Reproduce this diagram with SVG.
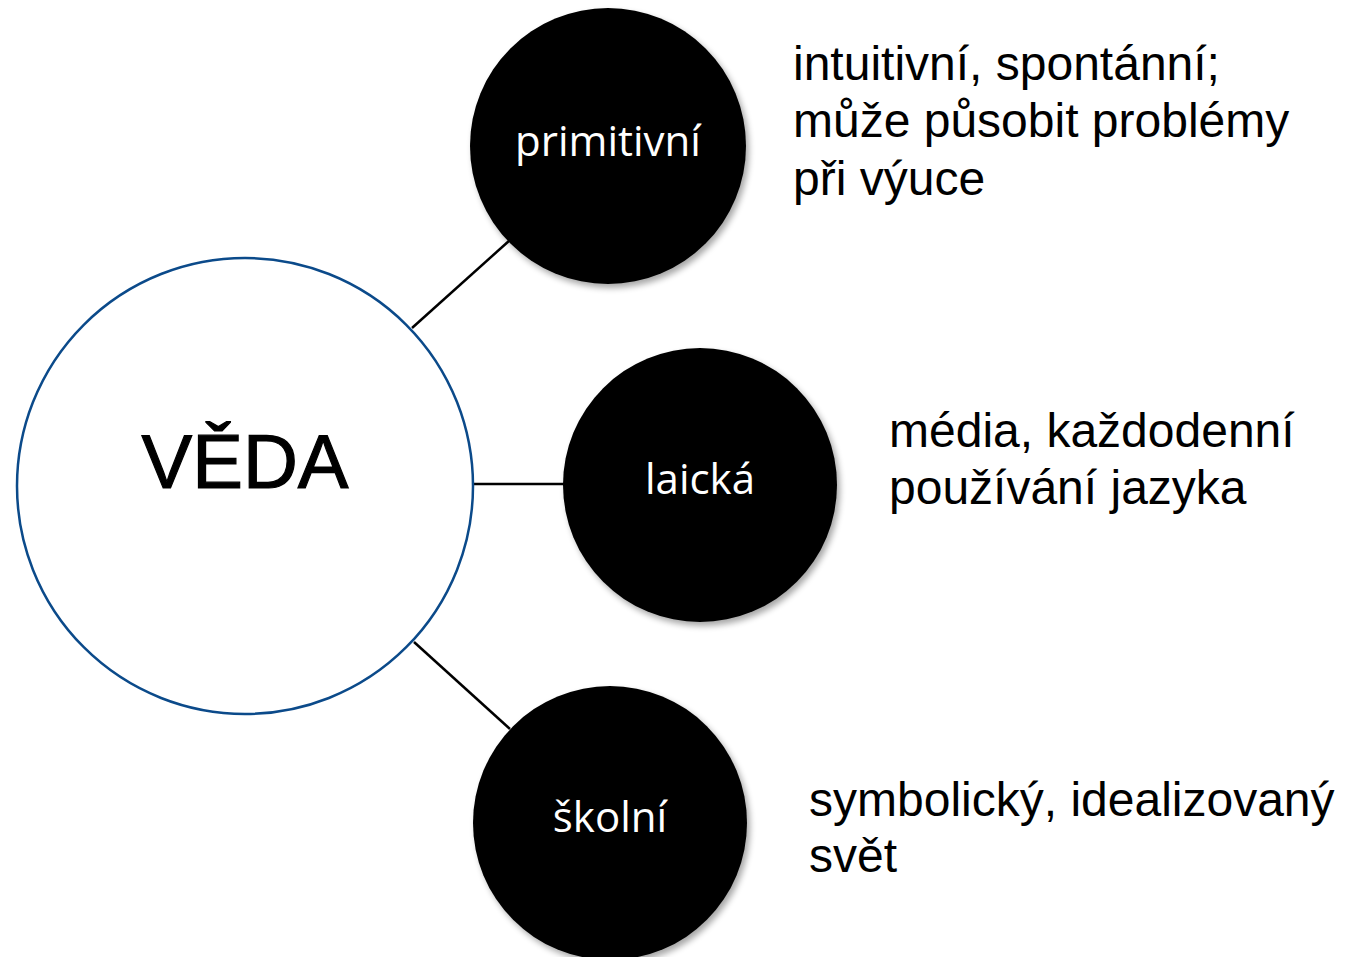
<svg xmlns="http://www.w3.org/2000/svg" width="1347" height="957" viewBox="0 0 1347 957">
<defs>
<filter id="sh" x="-20%" y="-20%" width="140%" height="140%">
<feGaussianBlur in="SourceAlpha" stdDeviation="3"/>
<feOffset dx="3" dy="4" result="b"/>
<feComponentTransfer><feFuncA type="linear" slope="0.35"/></feComponentTransfer>
<feMerge><feMergeNode/><feMergeNode in="SourceGraphic"/></feMerge>
</filter>
<style>
.blk{fill:#000;filter:url(#sh)}
.lbl{font-family:"Open Sans","DejaVu Sans",sans-serif;fill:#fff;font-size:42px;text-anchor:middle}
.desc{font-family:"Liberation Sans",Arial,sans-serif;fill:#000;font-size:48px}
.con{stroke:#000;stroke-width:2.5;fill:none}
</style>
</defs>
<rect width="1347" height="957" fill="#fff"/>
<g id="connectors">
<line class="con" x1="412" y1="328" x2="510" y2="240"/>
<line class="con" x1="474" y1="484" x2="565" y2="484"/>
<line class="con" x1="414" y1="642" x2="510" y2="729"/>
</g>
<g id="veda">
<circle cx="245" cy="486" r="228" fill="#fff" stroke="#0b4a8a" stroke-width="2.5"/>
<text x="245" y="488" font-family="Liberation Sans,Arial,sans-serif" font-size="76" text-anchor="middle" stroke="#000" stroke-width="1.2">VĚDA</text>
</g>
<g id="primitivni">
<circle class="blk" cx="608" cy="146" r="138"/>
<text class="lbl" x="608" y="156">primitivní</text>
</g>
<g id="laicka">
<circle class="blk" cx="700" cy="485" r="137"/>
<text class="lbl" x="700" y="494">laická</text>
</g>
<g id="skolni">
<circle class="blk" cx="610" cy="823" r="137"/>
<text class="lbl" x="610" y="832">školní</text>
</g>
<g id="desc-primitivni">
<text class="desc" x="793" y="80">intuitivní, spontánní;</text>
<text class="desc" x="793" y="137">může působit problémy</text>
<text class="desc" x="793" y="195">při výuce</text>
</g>
<g id="desc-laicka">
<text class="desc" x="889" y="447">média, každodenní</text>
<text class="desc" x="889" y="504">používání jazyka</text>
</g>
<g id="desc-skolni">
<text class="desc" x="809" y="816">symbolický, idealizovaný</text>
<text class="desc" x="809" y="872">svět</text>
</g>
</svg>
